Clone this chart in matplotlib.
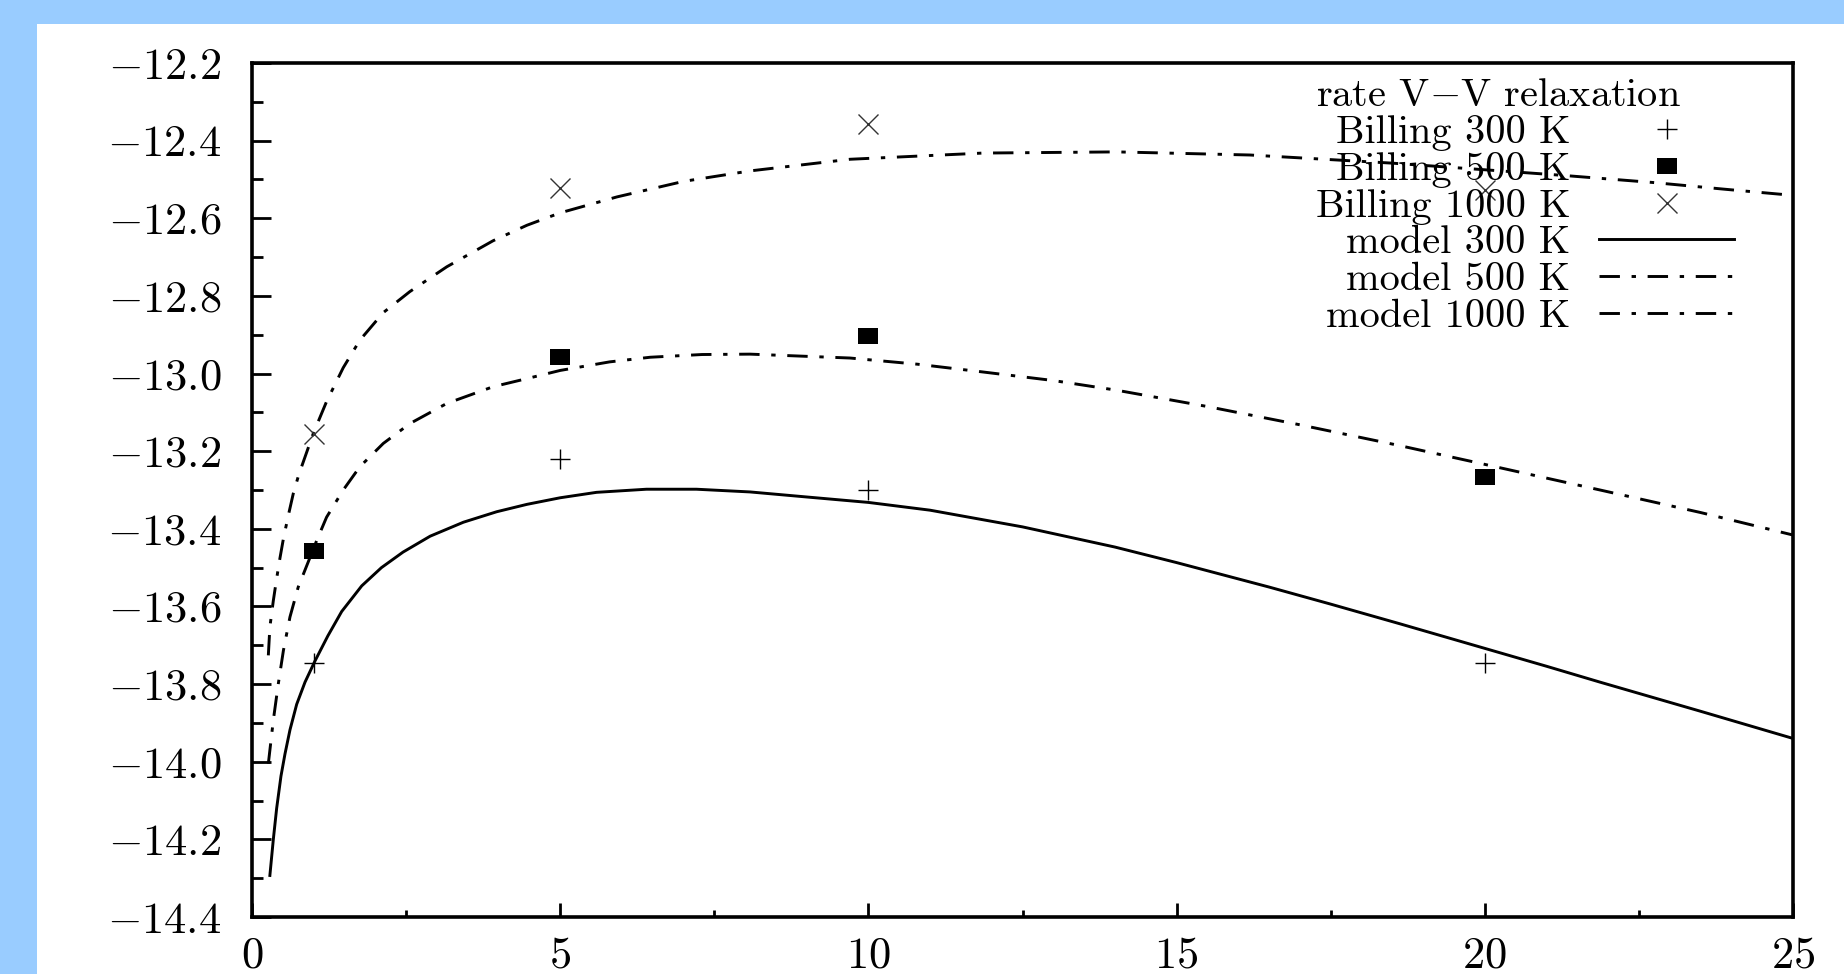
import matplotlib
matplotlib.use("Agg")
import matplotlib.pyplot as plt
from matplotlib.patches import Rectangle
from matplotlib.ticker import MultipleLocator

plt.rcParams['font.family'] = 'cmr10'
plt.rcParams['mathtext.fontset'] = 'cm'
plt.rcParams['axes.formatter.use_mathtext'] = True

# ---------------- data ----------------
x_billing = [1, 5, 10, 20]
billing_300 = [-13.745, -13.220, -13.300, -13.745]
billing_500 = [-13.456, -12.957, -12.904, -13.267]
billing_1000 = [-13.156, -12.523, -12.357, -12.528]

model_300_x = [0.29, 0.346, 0.40, 0.47, 0.535, 0.616, 0.725, 0.86, 1.02, 1.23,
               1.455, 1.78, 2.1, 2.45, 2.89, 3.43, 3.97, 4.46, 5.0, 5.59,
               6.40, 7.21, 8.08, 9.0, 10.0, 11.0, 12.5, 14.0, 15.0, 16.5,
               17.5, 18.63, 20.0, 21.0, 21.87, 23.5, 25.0]
model_300_y = [-14.293, -14.200, -14.120, -14.037, -13.980, -13.918, -13.852,
               -13.795, -13.741, -13.676, -13.613, -13.547, -13.500, -13.460,
               -13.419, -13.383, -13.356, -13.337, -13.320, -13.306, -13.298,
               -13.298, -13.305, -13.318, -13.332, -13.352, -13.395, -13.447,
               -13.487, -13.550, -13.594, -13.645, -13.708, -13.754, -13.795,
               -13.870, -13.940]

model_500_x = [0.265, 0.346, 0.427, 0.51, 0.616, 0.75, 0.913, 1.05, 1.21, 1.48,
               1.75, 2.13, 2.56, 3.16, 3.91, 4.46, 5.0, 5.8, 6.46, 7.3, 8.08,
               9.70, 10.8, 11.86, 13.0, 14.03, 15.5, 17.0, 18.63, 20.0, 21.87,
               23.5, 25.0]
model_500_y = [-14.005, -13.893, -13.799, -13.713, -13.627, -13.550, -13.485,
               -13.430, -13.370, -13.300, -13.240, -13.180, -13.129, -13.077,
               -13.034, -13.013, -12.992, -12.970, -12.958, -12.951, -12.950,
               -12.960, -12.976, -12.996, -13.018, -13.043, -13.085, -13.132,
               -13.186, -13.234, -13.300, -13.358, -13.416]

model_1000_x = [0.265, 0.29, 0.346, 0.40, 0.454, 0.51, 0.59, 0.67, 0.76, 0.86,
                0.995, 1.21, 1.48, 1.75, 2.13, 2.56, 3.16, 3.91, 4.46, 5.0,
                5.92, 7.0, 8.08, 9.70, 11.86, 14.03, 16.19, 18.5, 20.17, 21.31,
                22.74, 23.88, 25.0]
model_1000_y = [-13.726, -13.653, -13.585, -13.528, -13.475, -13.425, -13.365,
                -13.309, -13.260, -13.215, -13.154, -13.072, -12.985, -12.914,
                -12.843, -12.789, -12.725, -12.658, -12.618, -12.586, -12.545,
                -12.505, -12.478, -12.448, -12.432, -12.429, -12.437, -12.458,
                -12.477, -12.490, -12.508, -12.525, -12.541]

legend_title = r"rate V$-$V relaxation"
labels_billing = ["Billing 300 K", "Billing 500 K", "Billing 1000 K"]
labels_model = ["model 300 K", "model 500 K", "model 1000 K"]

# ---------------- figure ----------------
W, H = 1844, 974
fig = plt.figure(figsize=(W / 100, H / 100), dpi=100, facecolor='#99CCFF')
bg = Rectangle((37 / W, 0), 1 - 37 / W, 1 - 24 / H,
               transform=fig.transFigure, facecolor='white',
               edgecolor='none', zorder=-10)
fig.add_artist(bg)

ax = fig.add_axes([252 / W, (H - 917) / H, 1541 / W, 854 / H], zorder=1)
ax.set_facecolor('white')

dashdot = (0, (7, 4, 1.5, 4))
l1, = ax.plot(model_300_x, model_300_y, color='black', lw=2.1, linestyle='-')
l2, = ax.plot(model_500_x, model_500_y, color='black', lw=2.1, linestyle=dashdot)
l3, = ax.plot(model_1000_x, model_1000_y, color='black', lw=2.1, linestyle=dashdot)

rect_marker = [(-1, -0.76), (1, -0.76), (1, 0.76), (-1, 0.76), (-1, -0.76)]
p1, = ax.plot(x_billing, billing_300, linestyle='none', marker='+',
              markersize=14, markeredgewidth=1.0, color='black')
p2, = ax.plot(x_billing, billing_500, linestyle='none', marker=rect_marker,
              markersize=15, markeredgewidth=0, color='black')
p3, = ax.plot(x_billing, billing_1000, linestyle='none', marker='x',
              markersize=14, markeredgewidth=1.0, color='#333333')

ax.set_xlim(0, 25)
ax.set_ylim(-14.4, -12.2)
ax.xaxis.set_major_locator(MultipleLocator(5))
ax.xaxis.set_minor_locator(MultipleLocator(2.5))
ax.yaxis.set_major_locator(MultipleLocator(0.2))
ax.yaxis.set_minor_locator(MultipleLocator(0.1))

for s in ax.spines.values():
    s.set_linewidth(2.6)
ax.tick_params(axis='both', which='both', direction='in', top=False, right=False,
               width=2.0, labelsize=32)
ax.tick_params(axis='x', which='major', length=10, pad=14)
ax.tick_params(axis='x', which='minor', length=5)
ax.tick_params(axis='y', which='major', length=14, pad=22)
ax.tick_params(axis='y', which='minor', length=8)

leg = ax.legend([p1, p2, p3, l1, l2, l3], labels_billing + labels_model,
                title=legend_title, loc='upper right',
                bbox_to_anchor=(0.9617, 0.982), borderaxespad=0, borderpad=0,
                frameon=False, markerfirst=False, fontsize=29,
                title_fontsize=29, handlelength=3.35, handletextpad=0.72,
                labelspacing=0.015, numpoints=1, alignment='left')

fig.savefig('out.png', dpi=100, facecolor=fig.get_facecolor())
